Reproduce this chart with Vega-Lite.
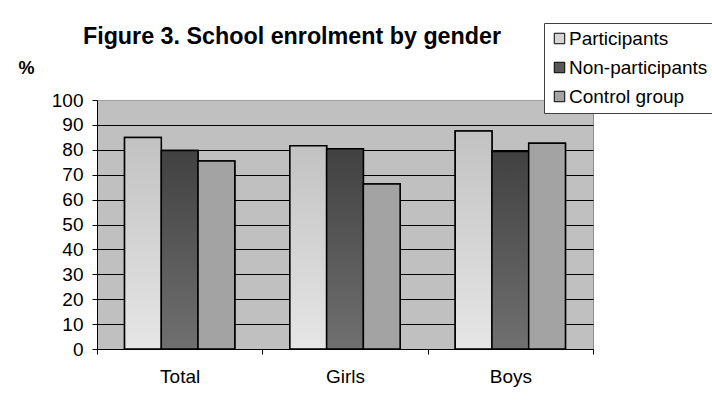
{
  "$schema": "https://vega.github.io/schema/vega-lite/v6.json",
  "autosize": {"type": "none"},
  "padding": {"left": 97, "top": 100, "right": 119, "bottom": 53},
  "width": 496,
  "height": 249,
  "background": "white",
  "config": {
    "font": "Liberation Sans",
    "view": {"fill": "#c0c0c0", "stroke": "#8c8c8c", "strokeWidth": 1}
  },
  "title": {
    "text": "Figure 3. School enrolment by gender",
    "fontSize": 23.3,
    "fontWeight": "bold",
    "color": "black",
    "anchor": "middle",
    "frame": "group",
    "dx": -53,
    "offset": 0,
    "dy": 45,
    "baseline": "alphabetic"
  },
  "data": {
    "values": [
      {"category": "Total", "group": "Participants", "value": 84.9},
      {"category": "Total", "group": "Non-participants", "value": 79.7},
      {"category": "Total", "group": "Control group", "value": 75.5},
      {"category": "Girls", "group": "Participants", "value": 81.6},
      {"category": "Girls", "group": "Non-participants", "value": 80.4},
      {"category": "Girls", "group": "Control group", "value": 66.3},
      {"category": "Boys", "group": "Participants", "value": 87.6},
      {"category": "Boys", "group": "Non-participants", "value": 79.3},
      {"category": "Boys", "group": "Control group", "value": 82.6}
    ]
  },
  "encoding": {
    "x": {
      "field": "category",
      "type": "nominal",
      "sort": ["Total", "Girls", "Boys"],
      "scale": {"paddingInner": 0, "paddingOuter": 0},
      "axis": {
        "title": null,
        "labelAngle": 0,
        "labelFontSize": 19,
        "labelColor": "black",
        "labelBaseline": "top",
        "labelPadding": 13,
        "domainColor": "black",
        "domainWidth": 1,
        "tickColor": "black",
        "tickSize": 5,
        "tickBand": "extent",
        "grid": false
      }
    },
    "xOffset": {
      "field": "group",
      "type": "nominal",
      "sort": ["Participants", "Non-participants", "Control group"],
      "scale": {"paddingInner": 0, "paddingOuter": 0.75}
    },
    "y": {
      "field": "value",
      "type": "quantitative",
      "scale": {"domain": [0, 100], "nice": false},
      "axis": {
        "title": "%",
        "titleAngle": 0,
        "titleFontSize": 18,
        "titleFontWeight": "bold",
        "titleColor": "black",
        "titleX": -79,
        "titleY": -32,
        "titleAlign": "left",
        "titleBaseline": "middle",
        "values": [0, 10, 20, 30, 40, 50, 60, 70, 80, 90, 100],
        "labelFontSize": 19,
        "labelColor": "black",
        "labelPadding": 9,
        "domainColor": "black",
        "tickColor": "black",
        "tickSize": 5,
        "grid": true,
        "gridColor": {"condition": {"test": "datum.value === 100", "value": "#a0a0a0"}, "value": "black"},
        "gridOpacity": 1,
        "gridWidth": 1
      }
    }
  },
  "layer": [
    {
      "mark": {"type": "bar", "stroke": "black", "strokeWidth": 1.5},
      "encoding": {
        "fill": {
          "field": "group",
          "type": "nominal",
          "sort": ["Participants", "Non-participants", "Control group"],
          "scale": {"domain": ["Participants", "Non-participants", "Control group"], "range": ["#d6d6d6", "#585858", "#a3a3a3"]},
          "legend": {
            "title": null,
            "orient": "none",
            "legendX": 447,
            "legendY": -77,
            "direction": "vertical",
            "fillColor": "white",
            "strokeColor": "#404040",
            "padding": 6,
            "symbolType": "square",
            "symbolSize": 110,
            "symbolStrokeColor": "black",
            "symbolStrokeWidth": 1,
            "symbolOpacity": 1,
            "labelFontSize": 19,
            "labelColor": "black",
            "labelOffset": 0,
            "rowPadding": 9,
            "labelLimit": 300
          }
        }
      }
    },
    {
      "mark": {"type": "bar", "stroke": "black", "strokeWidth": 1.5},
      "encoding": {
        "fill": {
          "condition": [
            {"test": "datum.group === 'Participants'", "value": {"gradient": "linear", "x1": 0, "y1": 0, "x2": 0, "y2": 1, "stops": [{"offset": 0, "color": "#c2c2c2"}, {"offset": 1, "color": "#e6e6e6"}]}},
            {"test": "datum.group === 'Non-participants'", "value": {"gradient": "linear", "x1": 0, "y1": 0, "x2": 0, "y2": 1, "stops": [{"offset": 0, "color": "#414141"}, {"offset": 1, "color": "#707070"}]}}
          ],
          "value": "#a3a3a3"
        }
      }
    }
  ]
}
